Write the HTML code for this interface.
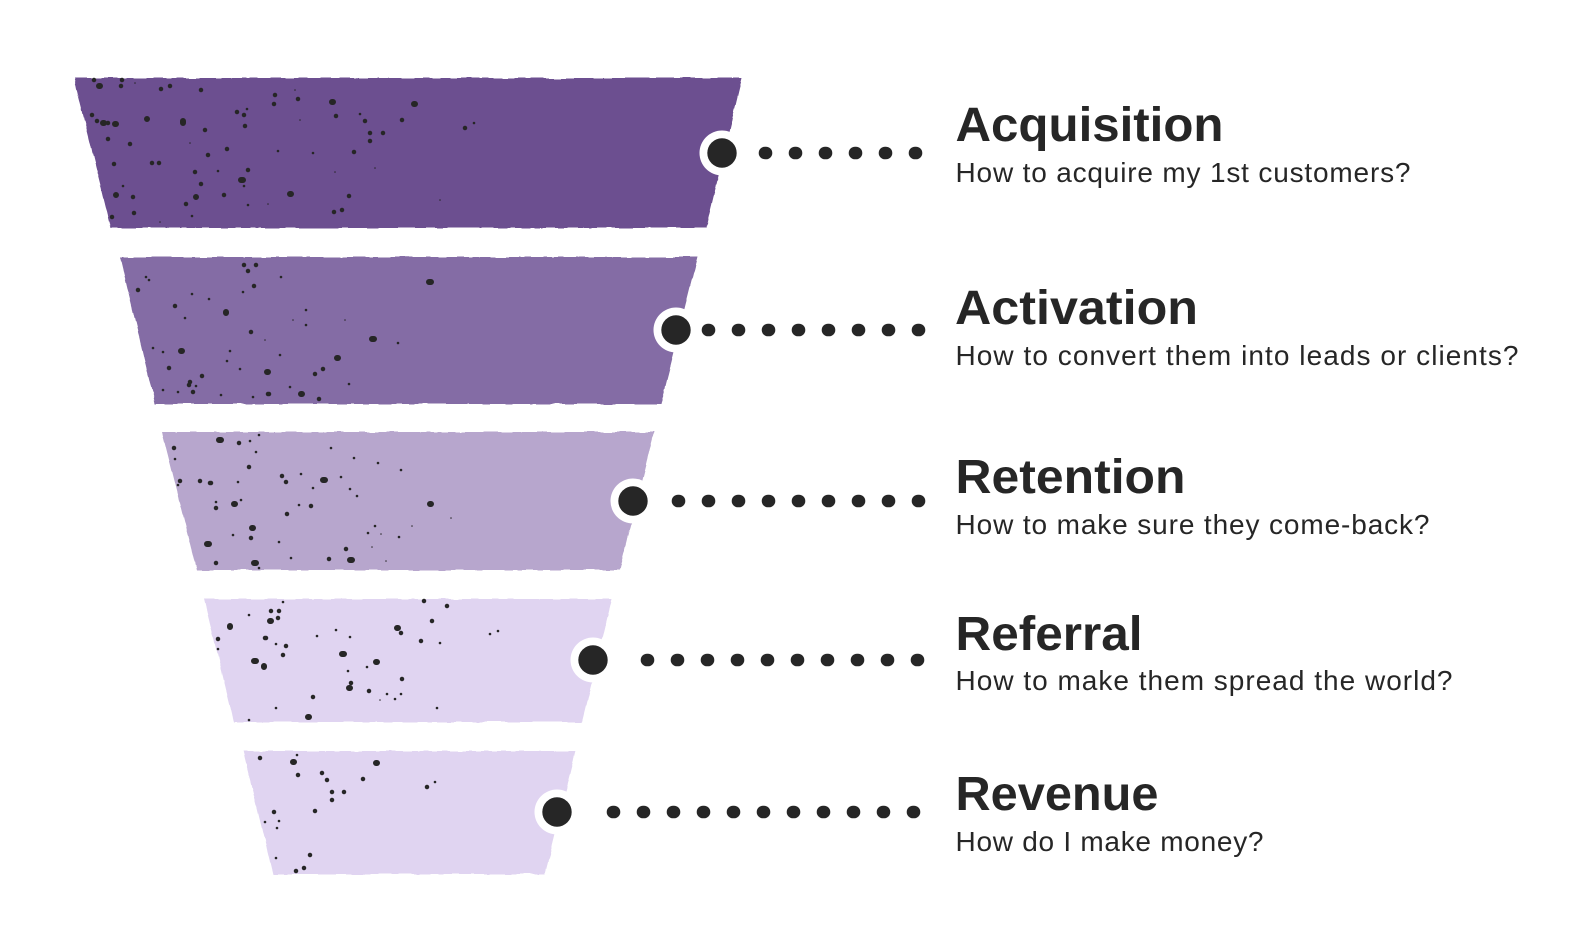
<!DOCTYPE html>
<html><head><meta charset="utf-8"><style>
html,body{margin:0;padding:0;background:#fff;width:1595px;height:952px;overflow:hidden}
svg{display:block}
.t{font:bold 48px "Liberation Sans",sans-serif;fill:#262626}
.s{font:28px "Liberation Sans",sans-serif;fill:#262626}
.k{fill:none;stroke:#262626;stroke-linecap:round}
</style></head><body>
<svg width="1595" height="952" viewBox="0 0 1595 952" xmlns="http://www.w3.org/2000/svg">
<defs>
<filter id="w" x="-5%" y="-10%" width="110%" height="120%">
<feTurbulence type="fractalNoise" baseFrequency="0.06" numOctaves="2" seed="4"/>
<feDisplacementMap in="SourceGraphic" scale="3.5" xChannelSelector="R" yChannelSelector="G"/>
</filter>
</defs>
<g filter="url(#w)">
<polygon points="74,78 742,78 706,228 111,228" fill="#6c4f90"/>
<polygon points="120,257 698,257 661,404 155,404" fill="#846ca5"/>
<polygon points="162,432 654,432 620,570 197,570" fill="#b7a6cd"/>
<polygon points="204,599 612,599 582,722 234,722" fill="#e0d4f1"/>
<polygon points="243,751 576,751 545,874 273,874" fill="#e0d4f1"/>
</g>
<path class="k" stroke-width="6" d="M103 123h1M115 124h1M147 119h0M183 121v2M116 195h0M196 197h0M241 180h2M290 194h1M332 102h1M414 104h1M99 86h1M181 351h1M226 312v1M337 358h1M372 339h2M267 372h1M301 394h1M429 282h2M219 440h2M252 528h1M207 544h2M234 504h1M323 480h2M430 504h1M254 563h2M350 560h2M270 621h1M230 626v1M254 661h2M264 666v1M342 654h2M397 628h1M376 662h1M308 717h1M349 688h1M293 762h1M376 763h1"/>
<path class="k" stroke-width="4.5" d="M94 80h0M122 80h0M121 86h0M161 89h0M170 86h0M201 90h0M275 95h0M274 104h0M298 99h0M92 115h0M97 121h0M108 123h0M205 130h0M244 115h0M237 112h0M245 126h0M336 116h0M365 121h0M402 120h0M465 128h0M370 133h0M383 133h0M370 141h0M354 152h0M108 139h0M130 144h0M227 149h0M208 155h0M114 164h0M152 163h0M159 163h0M195 172h0M248 170h0M201 184h0M186 204h0M134 213h0M112 217h0M334 212h0M342 210h0M224 195h0M349 196h0M133 197h0M138 290h0M248 271h0M254 286h0M175 306h0M251 332h0M169 368h0M189 385h0M190 382h0M193 392h0M202 376h0M315 374h0M323 369h0M268 394h1M319 399h0M256 265h0M244 265h0M174 448h0M239 443h0M200 481h0M210 483h1M180 481h0M249 467h0M282 476h0M286 482h0M251 538h0M216 563h0M329 559h0M346 549h0M311 506h0M287 514h0M216 508h0M271 611h0M279 611h0M278 618h0M265 638h1M286 646h0M283 655h0M218 639h0M447 606h0M432 621h0M421 641h0M401 633h0M402 679h0M351 683h0M369 691h0M313 697h0M424 601h0M327 780h0M332 792h0M344 792h0M332 800h0M315 811h0M363 779h0M427 787h0M322 773h0M274 812h0M310 855h0M304 868h0M296 871h0M298 775h0M260 758h0"/>
<path class="k" stroke-width="2.6" d="M247 109h0M360 114h0M474 123h0M278 151h0M313 153h0M218 171h0M244 186h0M123 186h0M248 205h0M192 216h0M281 277h0M243 292h0M209 299h0M306 325h0M230 351h0M280 355h0M240 369h0M178 392h0M221 395h0M253 397h0M349 384h0M196 386h0M398 343h0M185 318h0M192 294h0M153 348h0M163 352h0M149 280h0M146 277h0M290 387h0M163 390h0M227 361h0M306 310h0M175 459h0M178 485h0M250 441h0M256 452h0M301 474h0M238 482h0M341 477h0M378 463h0M401 470h0M354 458h0M331 448h0M357 496h0M299 505h0M216 502h0M241 500h0M233 535h0M279 542h0M291 558h0M375 526h0M399 537h0M368 533h0M350 489h0M313 488h0M259 568h0M259 435h0M283 602h0M249 615h0M218 649h0M276 644h0M317 636h0M336 630h0M350 637h0M490 634h0M498 631h0M395 699h0M437 708h0M276 708h0M249 720h0M387 694h0M401 694h0M348 671h0M367 667h0M440 643h0M435 782h0M265 822h0M277 828h0M276 858h0M297 755h0M279 821h0"/>
<path class="k" stroke-width="1.5" d="M451 518h0M386 561h0M412 526h0M372 547h0M381 534h0M135 83h0M190 143h0M300 120h0M335 172h0M268 204h0M160 222h0M295 90h0M375 168h0M440 200h0M265 340h0M293 320h0M345 320h0M380 700h0"/>
<g fill="#fff">
<circle cx="722" cy="153" r="22.5"/><circle cx="676" cy="330" r="22.5"/><circle cx="633" cy="501" r="22.5"/><circle cx="593" cy="660" r="22.5"/><circle cx="557" cy="812" r="22.5"/>
</g>
<g fill="#262626">
<circle cx="722" cy="153" r="14.7"/><circle cx="676" cy="330" r="14.7"/><circle cx="633" cy="501" r="14.7"/><circle cx="593" cy="660" r="14.7"/><circle cx="557" cy="812" r="14.7"/>
</g>
<path class="k" stroke-width="12.6" d="M765 153h1M795 153h1M825 153h1M855 153h1M885 153h1M915 153h1
M708 330h1M738 330h1M768 330h1M798 330h1M828 330h1M858 330h1M888 330h1M918 330h1
M678 501h1M708 501h1M738 501h1M768 501h1M798 501h1M828 501h1M858 501h1M888 501h1M918 501h1
M647 660h1M677 660h1M707 660h1M737 660h1M767 660h1M797 660h1M827 660h1M857 660h1M887 660h1M917 660h1
M613 812h1M643 812h1M673 812h1M703 812h1M733 812h1M763 812h1M793 812h1M823 812h1M853 812h1M883 812h1M913 812h1"/>
<text class="t" x="955.5" y="141" textLength="268" lengthAdjust="spacingAndGlyphs">Acquisition</text>
<text class="s" x="955.5" y="182" textLength="455" lengthAdjust="spacing">How to acquire my 1st customers?</text>
<text class="t" x="955" y="324" textLength="243" lengthAdjust="spacingAndGlyphs">Activation</text>
<text class="s" x="955.5" y="365" textLength="563" lengthAdjust="spacing">How to convert them into leads or clients?</text>
<text class="t" x="955.5" y="493" textLength="230" lengthAdjust="spacingAndGlyphs">Retention</text>
<text class="s" x="955.5" y="534" textLength="474" lengthAdjust="spacing">How to make sure they come-back?</text>
<text class="t" x="955.5" y="650" textLength="187" lengthAdjust="spacingAndGlyphs">Referral</text>
<text class="s" x="955.5" y="690" textLength="497" lengthAdjust="spacing">How to make them spread the world?</text>
<text class="t" x="955.5" y="810" textLength="203" lengthAdjust="spacingAndGlyphs">Revenue</text>
<text class="s" x="955.5" y="851" textLength="308" lengthAdjust="spacing">How do I make money?</text>
</svg>
</body></html>
